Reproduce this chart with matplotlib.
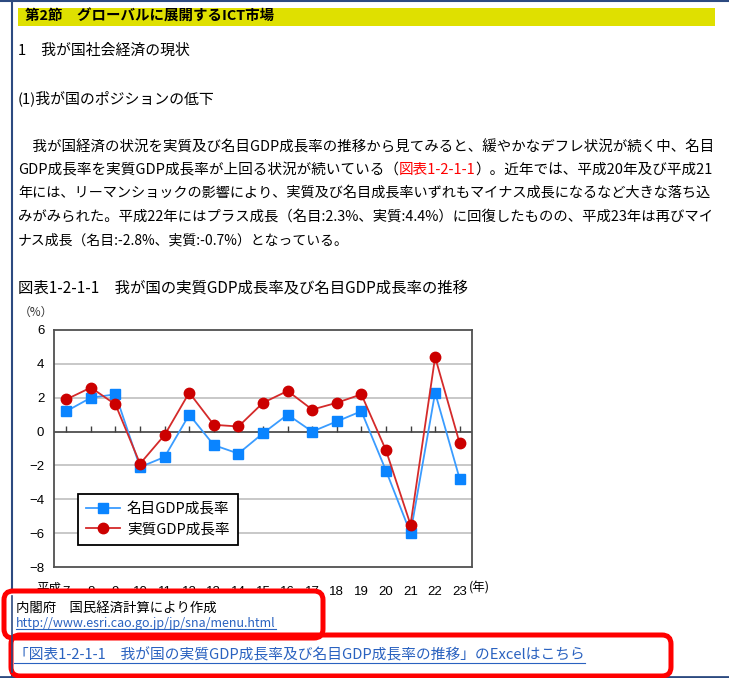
import matplotlib
matplotlib.use('Agg')
import matplotlib.pyplot as plt
from matplotlib.patches import Rectangle, FancyBboxPatch
from matplotlib import transforms

# ---------------- data ----------------
years = list(range(7, 24))
year_labels = [str(y) for y in years]
nominal_growth = [1.2, 2.0, 2.2, -2.1, -1.5, 1.0, -0.8, -1.3, -0.1, 1.0, 0.0, 0.6, 1.2, -2.3, -6.0, 2.3, -2.8]
real_growth = [1.9, 2.6, 1.6, -1.9, -0.2, 2.3, 0.4, 0.3, 1.7, 2.4, 1.3, 1.7, 2.2, -1.1, -5.5, 4.4, -0.7]
series_names = ['名目GDP成長率', '実質GDP成長率']
y_ticks = [6, 4, 2, 0, -2, -4, -6, -8]

heading = '第2節　グローバルに展開するICT市場'
section1 = '1　我が国社会経済の現状'
section2 = '(1)我が国のポジションの低下'
para_lines = [
    [('　我が国経済の状況を実質及び名目GDP成長率の推移から見てみると、緩やかなデフレ状況が続く中、名目', 'k')],
    [('GDP成長率を実質GDP成長率が上回る状況が続いている（', 'k'), ('図表1-2-1-1', '#ff0000'),
     ('）。近年では、平成20年及び平成21', 'k')],
    [('年には、リーマンショックの影響により、実質及び名目成長率いずれもマイナス成長になるなど大きな落ち込', 'k')],
    [('みがみられた。平成22年にはプラス成長（名目:2.3%、実質:4.4%）に回復したものの、平成23年は再びマイ', 'k')],
    [('ナス成長（名目:-2.8%、実質:-0.7%）となっている。', 'k')],
]
chart_title = '図表1-2-1-1　我が国の実質GDP成長率及び名目GDP成長率の推移'
source_text = '内閣府　国民経済計算により作成'
source_url = 'http://www.esri.cao.go.jp/jp/sna/menu.html'
excel_link = '「図表1-2-1-1　我が国の実質GDP成長率及び名目GDP成長率の推移」のExcelはこちら'

# ---------------- figure ----------------
W, H = 729, 678
plt.rcParams['font.family'] = ['Noto Sans CJK JP', 'DejaVu Sans']
fig = plt.figure(figsize=(W / 100, H / 100), dpi=100)
fig.patch.set_facecolor('white')
renderer = fig.canvas.get_renderer()


def page_axes(z):
    a = fig.add_axes([0, 0, 1, 1], zorder=z)
    a.set_xlim(0, W)
    a.set_ylim(H, 0)
    a.axis('off')
    return a


bg = page_axes(0)
ov = page_axes(5)


def text_line(axp, x, y, segs, size, width=None, weight='normal', underline=None):
    texts = [axp.text(x, y, s, color=c, fontsize=size, va='center', ha='left',
                      fontweight=weight) for s, c in segs]
    total = sum(t.get_window_extent(renderer).width for t in texts)
    if width:
        for t in texts:
            t.set_fontsize(size * width / total)
    cx = x
    for t in texts:
        t.set_x(cx)
        cx += t.get_window_extent(renderer).width
    if underline:
        axp.plot([x, cx], [y + underline[1], y + underline[1]], color=underline[0], lw=0.8)
    return cx


# page borders
border = '#2c4a80'
bg.plot([12, 12], [0, H], color=border, lw=1.5)
bg.plot([0, W], [0.8, 0.8], color=border, lw=1.5)
bg.plot([0, W], [676.8, 676.8], color=border, lw=2)

# heading bar
bg.add_patch(Rectangle((18, 8), 697, 18, facecolor='#dfe000', edgecolor='none'))
text_line(bg, 25, 17, [(heading, 'k')], 9.5, width=250, weight='bold')

text_line(bg, 18, 51, [(section1, 'k')], 10, width=172)
text_line(bg, 18, 98, [(section2, 'k')], 10, width=197)

line_y = [147, 170, 193, 217, 240]
for i, (segs, yy) in enumerate(zip(para_lines, line_y)):
    text_line(bg, 18, yy, segs, 10, width=694 if i < 4 else 330)

text_line(bg, 18, 288, [(chart_title, 'k')], 10, width=450)
bg.text(53, 312, '（%）', fontsize=8.5, ha='right', va='center', color='#333333')

# ---------------- chart ----------------
L, R, T, B = 54, 472, 330, 567
ax = fig.add_axes([L / W, 1 - B / H, (R - L) / W, (B - T) / H], zorder=1)
x = list(range(len(years)))
ax.set_xlim(-0.5, len(years) - 0.5)
ax.set_ylim(-8, 6)
for yv in y_ticks:
    if yv not in (0, 6, -8):
        ax.axhline(yv, color='#c8c8c8', lw=1.4, zorder=0)
ax.axhline(0, color='#404040', lw=1.2, zorder=1)
ax.vlines(x, 0, 0.3, color='#404040', lw=1.0, zorder=1)
for s in ax.spines.values():
    s.set_color('#505050')
    s.set_linewidth(1.3)

l1, = ax.plot(x, nominal_growth, color='#3a9cff', lw=1.3, marker='s', ms=6.8,
              mfc='#0a84ff', mec='#0a84ff', zorder=3)
l2, = ax.plot(x, real_growth, color='#d42a2a', lw=1.3, marker='o', ms=7.5,
              mfc='#cc0000', mec='#cc0000', zorder=4)

ax.set_yticks(y_ticks)
ax.set_yticklabels([str(v).replace('-', '−') for v in y_ticks], fontsize=9.5,
                   family=['Liberation Sans', 'DejaVu Sans'])
ax.set_xticks(x)
ax.set_xticklabels(year_labels, fontsize=9.5, family=['Liberation Sans', 'DejaVu Sans'])
ax.tick_params(axis='y', length=0, pad=7)
ax.tick_params(axis='x', length=0, pad=14)
lab_tr = ax.get_xaxis_transform()
ax.text(x[0], 0, '平成', transform=transforms.offset_copy(lab_tr, fig=fig, x=-5, y=-21, units='dots'),
        ha='right', va='center', fontsize=9)
ax.text(x[-1], 0, '(年)', transform=transforms.offset_copy(lab_tr, fig=fig, x=9, y=-21, units='dots'),
        ha='left', va='center', fontsize=9)

leg = ax.legend([l1, l2], series_names, loc='upper left', bbox_to_anchor=(78 / W, 1 - 494 / H),
                bbox_transform=fig.transFigure, fancybox=False, edgecolor='black', framealpha=1,
                borderaxespad=0, fontsize=10.5, handlelength=2.3, handletextpad=0.5,
                labelspacing=0.45, borderpad=0.55)
leg.get_frame().set_linewidth(1.3)

# ---------------- bottom boxes ----------------
red = '#ff0000'
boxes = [(4, 591, 319, 47), (11, 635, 660, 41)]
for bx, by, bw, bh in boxes:
    ov.add_patch(FancyBboxPatch((bx, by), bw, bh, boxstyle='round,pad=0,rounding_size=9',
                                facecolor='white', edgecolor='none'))
for bx, by, bw, bh in boxes:
    ov.add_patch(FancyBboxPatch((bx, by), bw, bh, boxstyle='round,pad=0,rounding_size=9',
                                facecolor='none', edgecolor=red, lw=3.6))
ov.plot([12, 12], [596, 672], color=border, lw=1.2)

text_line(ov, 16, 608, [(source_text, 'k')], 9.5, width=202)
link = '#2a62c0'
text_line(ov, 16, 623, [(source_url, link)], 8, width=261, underline=(link, 6))
text_line(ov, 14, 655, [(excel_link, link)], 9.5, width=573, underline=(link, 8))

fig.savefig('out.png', dpi=100, facecolor='white')
